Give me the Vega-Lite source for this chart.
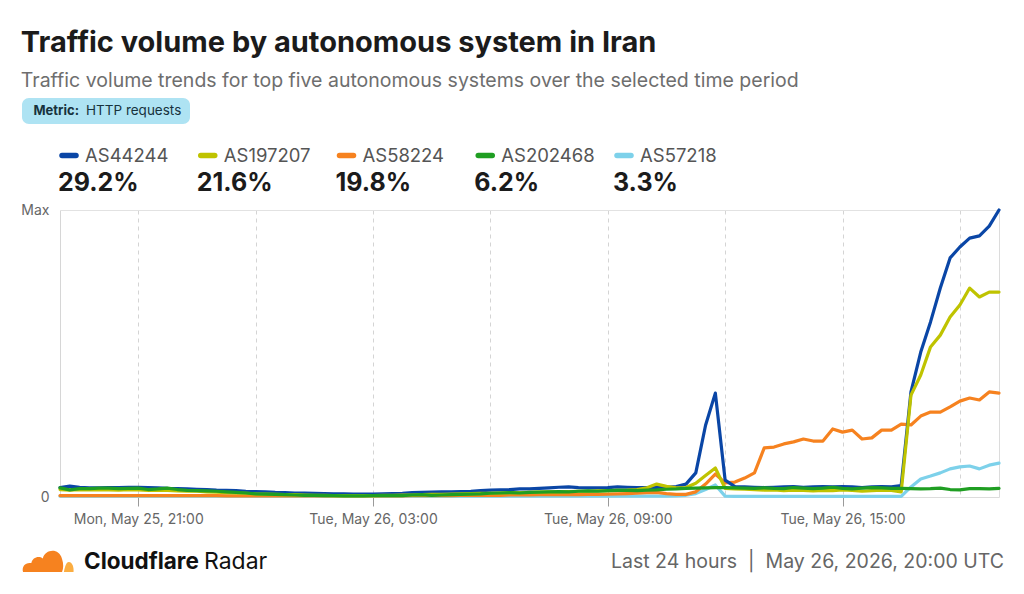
{
  "$schema": "https://vega.github.io/schema/vega-lite/v6.json",
  "background": "#ffffff",
  "padding": {"left": 20, "top": 28, "right": 22, "bottom": 8},
  "title": {
    "text": "Traffic volume by autonomous system in Iran",
    "subtitle": "Traffic volume trends for top five autonomous systems over the selected time period",
    "anchor": "start",
    "frame": "bounds",
    "font": "Inter",
    "fontSize": 29,
    "fontWeight": 700,
    "color": "#1b1b1b",
    "subtitleFont": "Inter",
    "subtitleFontSize": 19.5,
    "subtitleColor": "#6e6e6e",
    "subtitlePadding": 14,
    "offset": 8
  },
  "config": {
    "font": "Inter",
    "view": {"stroke": null},
    "concat": {"spacing": 0}
  },
  "datasets": {
    "shares": [
      {"as": "AS44244", "share": 0.292},
      {"as": "AS197207", "share": 0.216},
      {"as": "AS58224", "share": 0.198},
      {"as": "AS202468", "share": 0.062},
      {"as": "AS57218", "share": 0.033}
    ],
    "traffic": [
      {"time": "2026-05-25T19:00:00Z", "AS44244": 3.3, "AS197207": 2.6, "AS58224": 0.5, "AS202468": 3.2, "AS57218": 0.3},
      {"time": "2026-05-25T19:15:00Z", "AS44244": 3.8, "AS197207": 2.4, "AS58224": 0.5, "AS202468": 2.5, "AS57218": 0.3},
      {"time": "2026-05-25T19:30:00Z", "AS44244": 3.4, "AS197207": 2.6, "AS58224": 0.5, "AS202468": 2.9, "AS57218": 0.3},
      {"time": "2026-05-25T19:45:00Z", "AS44244": 3.2, "AS197207": 2.5, "AS58224": 0.5, "AS202468": 2.9, "AS57218": 0.3},
      {"time": "2026-05-25T20:00:00Z", "AS44244": 3.2, "AS197207": 2.6, "AS58224": 0.5, "AS202468": 3.1, "AS57218": 0.3},
      {"time": "2026-05-25T20:15:00Z", "AS44244": 3.3, "AS197207": 2.5, "AS58224": 0.5, "AS202468": 3.1, "AS57218": 0.3},
      {"time": "2026-05-25T20:30:00Z", "AS44244": 3.3, "AS197207": 2.4, "AS58224": 0.5, "AS202468": 2.9, "AS57218": 0.3},
      {"time": "2026-05-25T20:45:00Z", "AS44244": 3.4, "AS197207": 2.6, "AS58224": 0.5, "AS202468": 3.0, "AS57218": 0.3},
      {"time": "2026-05-25T21:00:00Z", "AS44244": 3.4, "AS197207": 2.5, "AS58224": 0.5, "AS202468": 3.1, "AS57218": 0.3},
      {"time": "2026-05-25T21:15:00Z", "AS44244": 3.3, "AS197207": 2.3, "AS58224": 0.5, "AS202468": 2.6, "AS57218": 0.3},
      {"time": "2026-05-25T21:30:00Z", "AS44244": 3.2, "AS197207": 2.4, "AS58224": 0.5, "AS202468": 2.8, "AS57218": 0.3},
      {"time": "2026-05-25T21:45:00Z", "AS44244": 3.0, "AS197207": 2.3, "AS58224": 0.5, "AS202468": 3.1, "AS57218": 0.3},
      {"time": "2026-05-25T22:00:00Z", "AS44244": 2.9, "AS197207": 2.1, "AS58224": 0.5, "AS202468": 2.6, "AS57218": 0.3},
      {"time": "2026-05-25T22:15:00Z", "AS44244": 2.8, "AS197207": 2.0, "AS58224": 0.5, "AS202468": 2.3, "AS57218": 0.3},
      {"time": "2026-05-25T22:30:00Z", "AS44244": 2.7, "AS197207": 2.0, "AS58224": 0.5, "AS202468": 2.2, "AS57218": 0.3},
      {"time": "2026-05-25T22:45:00Z", "AS44244": 2.6, "AS197207": 1.8, "AS58224": 0.5, "AS202468": 2.1, "AS57218": 0.3},
      {"time": "2026-05-25T23:00:00Z", "AS44244": 2.4, "AS197207": 1.7, "AS58224": 0.5, "AS202468": 2.0, "AS57218": 0.3},
      {"time": "2026-05-25T23:15:00Z", "AS44244": 2.3, "AS197207": 1.5, "AS58224": 0.4, "AS202468": 1.8, "AS57218": 0.3},
      {"time": "2026-05-25T23:30:00Z", "AS44244": 2.2, "AS197207": 1.4, "AS58224": 0.4, "AS202468": 1.6, "AS57218": 0.3},
      {"time": "2026-05-25T23:45:00Z", "AS44244": 2.0, "AS197207": 1.3, "AS58224": 0.4, "AS202468": 1.4, "AS57218": 0.3},
      {"time": "2026-05-26T00:00:00Z", "AS44244": 1.9, "AS197207": 1.1, "AS58224": 0.4, "AS202468": 1.1, "AS57218": 0.3},
      {"time": "2026-05-26T00:15:00Z", "AS44244": 1.8, "AS197207": 1.0, "AS58224": 0.4, "AS202468": 1.0, "AS57218": 0.3},
      {"time": "2026-05-26T00:30:00Z", "AS44244": 1.6, "AS197207": 0.9, "AS58224": 0.4, "AS202468": 0.9, "AS57218": 0.3},
      {"time": "2026-05-26T00:45:00Z", "AS44244": 1.5, "AS197207": 0.8, "AS58224": 0.4, "AS202468": 0.8, "AS57218": 0.3},
      {"time": "2026-05-26T01:00:00Z", "AS44244": 1.4, "AS197207": 0.8, "AS58224": 0.4, "AS202468": 0.7, "AS57218": 0.3},
      {"time": "2026-05-26T01:15:00Z", "AS44244": 1.4, "AS197207": 0.7, "AS58224": 0.4, "AS202468": 0.6, "AS57218": 0.3},
      {"time": "2026-05-26T01:30:00Z", "AS44244": 1.3, "AS197207": 0.6, "AS58224": 0.4, "AS202468": 0.6, "AS57218": 0.3},
      {"time": "2026-05-26T01:45:00Z", "AS44244": 1.2, "AS197207": 0.6, "AS58224": 0.4, "AS202468": 0.5, "AS57218": 0.3},
      {"time": "2026-05-26T02:00:00Z", "AS44244": 1.1, "AS197207": 0.5, "AS58224": 0.4, "AS202468": 0.5, "AS57218": 0.3},
      {"time": "2026-05-26T02:15:00Z", "AS44244": 1.1, "AS197207": 0.5, "AS58224": 0.4, "AS202468": 0.4, "AS57218": 0.3},
      {"time": "2026-05-26T02:30:00Z", "AS44244": 1.0, "AS197207": 0.5, "AS58224": 0.4, "AS202468": 0.4, "AS57218": 0.3},
      {"time": "2026-05-26T02:45:00Z", "AS44244": 1.0, "AS197207": 0.5, "AS58224": 0.4, "AS202468": 0.4, "AS57218": 0.3},
      {"time": "2026-05-26T03:00:00Z", "AS44244": 1.0, "AS197207": 0.5, "AS58224": 0.4, "AS202468": 0.5, "AS57218": 0.3},
      {"time": "2026-05-26T03:15:00Z", "AS44244": 1.1, "AS197207": 0.6, "AS58224": 0.4, "AS202468": 0.5, "AS57218": 0.3},
      {"time": "2026-05-26T03:30:00Z", "AS44244": 1.2, "AS197207": 0.6, "AS58224": 0.4, "AS202468": 0.5, "AS57218": 0.3},
      {"time": "2026-05-26T03:45:00Z", "AS44244": 1.3, "AS197207": 0.7, "AS58224": 0.4, "AS202468": 0.5, "AS57218": 0.3},
      {"time": "2026-05-26T04:00:00Z", "AS44244": 1.5, "AS197207": 0.7, "AS58224": 0.5, "AS202468": 0.7, "AS57218": 0.3},
      {"time": "2026-05-26T04:15:00Z", "AS44244": 1.6, "AS197207": 0.8, "AS58224": 0.5, "AS202468": 0.8, "AS57218": 0.3},
      {"time": "2026-05-26T04:30:00Z", "AS44244": 1.7, "AS197207": 0.9, "AS58224": 0.5, "AS202468": 0.6, "AS57218": 0.3},
      {"time": "2026-05-26T04:45:00Z", "AS44244": 1.8, "AS197207": 0.9, "AS58224": 0.5, "AS202468": 0.7, "AS57218": 0.3},
      {"time": "2026-05-26T05:00:00Z", "AS44244": 1.8, "AS197207": 1.0, "AS58224": 0.5, "AS202468": 0.8, "AS57218": 0.3},
      {"time": "2026-05-26T05:15:00Z", "AS44244": 1.9, "AS197207": 1.1, "AS58224": 0.6, "AS202468": 0.9, "AS57218": 0.3},
      {"time": "2026-05-26T05:30:00Z", "AS44244": 2.0, "AS197207": 1.2, "AS58224": 0.6, "AS202468": 1.0, "AS57218": 0.3},
      {"time": "2026-05-26T05:45:00Z", "AS44244": 2.2, "AS197207": 1.3, "AS58224": 0.6, "AS202468": 1.1, "AS57218": 0.3},
      {"time": "2026-05-26T06:00:00Z", "AS44244": 2.4, "AS197207": 1.3, "AS58224": 0.6, "AS202468": 1.3, "AS57218": 0.3},
      {"time": "2026-05-26T06:15:00Z", "AS44244": 2.5, "AS197207": 1.4, "AS58224": 0.6, "AS202468": 1.4, "AS57218": 0.3},
      {"time": "2026-05-26T06:30:00Z", "AS44244": 2.6, "AS197207": 1.5, "AS58224": 0.7, "AS202468": 1.5, "AS57218": 0.3},
      {"time": "2026-05-26T06:45:00Z", "AS44244": 2.8, "AS197207": 1.5, "AS58224": 0.7, "AS202468": 1.4, "AS57218": 0.3},
      {"time": "2026-05-26T07:00:00Z", "AS44244": 2.8, "AS197207": 1.6, "AS58224": 0.7, "AS202468": 1.6, "AS57218": 0.3},
      {"time": "2026-05-26T07:15:00Z", "AS44244": 3.0, "AS197207": 1.7, "AS58224": 0.8, "AS202468": 1.7, "AS57218": 0.3},
      {"time": "2026-05-26T07:30:00Z", "AS44244": 3.2, "AS197207": 1.8, "AS58224": 0.8, "AS202468": 1.8, "AS57218": 0.3},
      {"time": "2026-05-26T07:45:00Z", "AS44244": 3.4, "AS197207": 1.8, "AS58224": 0.8, "AS202468": 1.9, "AS57218": 0.3},
      {"time": "2026-05-26T08:00:00Z", "AS44244": 3.5, "AS197207": 1.9, "AS58224": 0.8, "AS202468": 1.8, "AS57218": 0.3},
      {"time": "2026-05-26T08:15:00Z", "AS44244": 3.3, "AS197207": 2.0, "AS58224": 0.8, "AS202468": 2.0, "AS57218": 0.3},
      {"time": "2026-05-26T08:30:00Z", "AS44244": 3.2, "AS197207": 2.0, "AS58224": 0.9, "AS202468": 2.1, "AS57218": 0.3},
      {"time": "2026-05-26T08:45:00Z", "AS44244": 3.2, "AS197207": 2.1, "AS58224": 0.9, "AS202468": 2.0, "AS57218": 0.3},
      {"time": "2026-05-26T09:00:00Z", "AS44244": 3.3, "AS197207": 2.2, "AS58224": 1.0, "AS202468": 2.2, "AS57218": 0.3},
      {"time": "2026-05-26T09:15:00Z", "AS44244": 3.5, "AS197207": 2.3, "AS58224": 1.1, "AS202468": 2.3, "AS57218": 0.3},
      {"time": "2026-05-26T09:30:00Z", "AS44244": 3.4, "AS197207": 2.4, "AS58224": 1.2, "AS202468": 2.3, "AS57218": 0.3},
      {"time": "2026-05-26T09:45:00Z", "AS44244": 3.3, "AS197207": 2.6, "AS58224": 1.3, "AS202468": 2.2, "AS57218": 0.3},
      {"time": "2026-05-26T10:00:00Z", "AS44244": 3.3, "AS197207": 3.2, "AS58224": 1.5, "AS202468": 2.4, "AS57218": 0.3},
      {"time": "2026-05-26T10:15:00Z", "AS44244": 3.3, "AS197207": 4.5, "AS58224": 1.6, "AS202468": 2.5, "AS57218": 0.3},
      {"time": "2026-05-26T10:30:00Z", "AS44244": 3.4, "AS197207": 3.7, "AS58224": 1.2, "AS202468": 2.7, "AS57218": 0.3},
      {"time": "2026-05-26T10:45:00Z", "AS44244": 3.6, "AS197207": 3.2, "AS58224": 0.9, "AS202468": 2.8, "AS57218": 0.4},
      {"time": "2026-05-26T11:00:00Z", "AS44244": 4.5, "AS197207": 3.3, "AS58224": 0.9, "AS202468": 3.0, "AS57218": 0.6},
      {"time": "2026-05-26T11:15:00Z", "AS44244": 8.4, "AS197207": 4.8, "AS58224": 1.8, "AS202468": 3.1, "AS57218": 1.2},
      {"time": "2026-05-26T11:30:00Z", "AS44244": 25.0, "AS197207": 7.5, "AS58224": 4.5, "AS202468": 3.2, "AS57218": 2.6},
      {"time": "2026-05-26T11:45:00Z", "AS44244": 36.2, "AS197207": 10.1, "AS58224": 8.0, "AS202468": 3.3, "AS57218": 4.2},
      {"time": "2026-05-26T12:00:00Z", "AS44244": 5.9, "AS197207": 3.0, "AS58224": 4.9, "AS202468": 3.3, "AS57218": 0.3},
      {"time": "2026-05-26T12:15:00Z", "AS44244": 3.6, "AS197207": 2.8, "AS58224": 5.2, "AS202468": 3.2, "AS57218": 0.2},
      {"time": "2026-05-26T12:30:00Z", "AS44244": 3.5, "AS197207": 2.7, "AS58224": 6.6, "AS202468": 3.1, "AS57218": 0.2},
      {"time": "2026-05-26T12:45:00Z", "AS44244": 3.4, "AS197207": 2.6, "AS58224": 8.4, "AS202468": 3.0, "AS57218": 0.2},
      {"time": "2026-05-26T13:00:00Z", "AS44244": 3.3, "AS197207": 2.4, "AS58224": 17.1, "AS202468": 3.2, "AS57218": 0.2},
      {"time": "2026-05-26T13:15:00Z", "AS44244": 3.4, "AS197207": 2.5, "AS58224": 17.4, "AS202468": 3.0, "AS57218": 0.2},
      {"time": "2026-05-26T13:30:00Z", "AS44244": 3.5, "AS197207": 2.2, "AS58224": 18.5, "AS202468": 2.9, "AS57218": 0.2},
      {"time": "2026-05-26T13:45:00Z", "AS44244": 3.6, "AS197207": 2.4, "AS58224": 19.2, "AS202468": 3.3, "AS57218": 0.2},
      {"time": "2026-05-26T14:00:00Z", "AS44244": 3.4, "AS197207": 2.3, "AS58224": 20.2, "AS202468": 3.1, "AS57218": 0.2},
      {"time": "2026-05-26T14:15:00Z", "AS44244": 3.5, "AS197207": 2.1, "AS58224": 19.5, "AS202468": 2.9, "AS57218": 0.2},
      {"time": "2026-05-26T14:30:00Z", "AS44244": 3.6, "AS197207": 2.3, "AS58224": 19.5, "AS202468": 3.1, "AS57218": 0.2},
      {"time": "2026-05-26T14:45:00Z", "AS44244": 3.5, "AS197207": 2.2, "AS58224": 23.7, "AS202468": 3.4, "AS57218": 0.2},
      {"time": "2026-05-26T15:00:00Z", "AS44244": 3.6, "AS197207": 2.5, "AS58224": 22.6, "AS202468": 3.0, "AS57218": 0.2},
      {"time": "2026-05-26T15:15:00Z", "AS44244": 3.5, "AS197207": 2.3, "AS58224": 23.3, "AS202468": 2.8, "AS57218": 0.2},
      {"time": "2026-05-26T15:30:00Z", "AS44244": 3.3, "AS197207": 2.0, "AS58224": 20.2, "AS202468": 3.1, "AS57218": 0.2},
      {"time": "2026-05-26T15:45:00Z", "AS44244": 3.5, "AS197207": 2.2, "AS58224": 20.6, "AS202468": 3.3, "AS57218": 0.2},
      {"time": "2026-05-26T16:00:00Z", "AS44244": 3.6, "AS197207": 2.4, "AS58224": 23.3, "AS202468": 3.2, "AS57218": 0.2},
      {"time": "2026-05-26T16:15:00Z", "AS44244": 3.5, "AS197207": 2.3, "AS58224": 23.3, "AS202468": 3.0, "AS57218": 0.2},
      {"time": "2026-05-26T16:30:00Z", "AS44244": 4.0, "AS197207": 1.8, "AS58224": 25.4, "AS202468": 3.0, "AS57218": 0.2},
      {"time": "2026-05-26T16:45:00Z", "AS44244": 36.6, "AS197207": 35.5, "AS58224": 25.1, "AS202468": 2.9, "AS57218": 3.5},
      {"time": "2026-05-26T17:00:00Z", "AS44244": 50.5, "AS197207": 42.5, "AS58224": 28.2, "AS202468": 2.8, "AS57218": 6.3},
      {"time": "2026-05-26T17:15:00Z", "AS44244": 61.0, "AS197207": 52.3, "AS58224": 29.6, "AS202468": 2.9, "AS57218": 7.3},
      {"time": "2026-05-26T17:30:00Z", "AS44244": 72.8, "AS197207": 56.4, "AS58224": 29.6, "AS202468": 3.1, "AS57218": 8.4},
      {"time": "2026-05-26T17:45:00Z", "AS44244": 83.3, "AS197207": 62.7, "AS58224": 31.4, "AS202468": 2.6, "AS57218": 9.8},
      {"time": "2026-05-26T18:00:00Z", "AS44244": 87.1, "AS197207": 66.9, "AS58224": 33.4, "AS202468": 2.5, "AS57218": 10.5},
      {"time": "2026-05-26T18:15:00Z", "AS44244": 90.2, "AS197207": 72.8, "AS58224": 34.5, "AS202468": 2.9, "AS57218": 10.8},
      {"time": "2026-05-26T18:30:00Z", "AS44244": 91.0, "AS197207": 69.7, "AS58224": 33.8, "AS202468": 2.9, "AS57218": 9.8},
      {"time": "2026-05-26T18:45:00Z", "AS44244": 94.4, "AS197207": 71.4, "AS58224": 36.6, "AS202468": 2.8, "AS57218": 11.1},
      {"time": "2026-05-26T19:00:00Z", "AS44244": 100.0, "AS197207": 71.4, "AS58224": 36.2, "AS202468": 3.0, "AS57218": 11.8}
    ]
  },
  "concat": [
    {
      "width": 168,
      "height": 26,
      "view": {"fill": "#aee3f3", "cornerRadius": 7, "stroke": null},
      "data": {"values": [{"metric": "HTTP requests"}]},
      "layer": [
        {
          "mark": {"type": "text", "align": "right", "baseline": "middle", "dx": -27, "fontSize": 13, "fontWeight": 700, "color": "#17323d"},
          "encoding": {"text": {"value": "Metric:"}}
        },
        {
          "mark": {"type": "text", "align": "left", "baseline": "middle", "dx": -20, "fontSize": 13.5, "color": "#17323d"},
          "encoding": {"text": {"field": "metric"}}
        }
      ]
    },
    {
      "width": 982,
      "height": 79,
      "data": {"name": "shares"},
      "encoding": {
        "x": {
          "field": "as",
          "type": "nominal",
          "sort": null,
          "axis": null,
          "scale": {"type": "point", "padding": 0, "domain": ["AS44244", "AS197207", "AS58224", "AS202468", "AS57218"], "range": [47, 602]}
        }
      },
      "layer": [
        {
          "mark": {"type": "point", "shape": "M-1,0L1,0", "filled": false, "size": 196, "strokeWidth": 5.5, "strokeCap": "round", "opacity": 1, "yOffset": -8},
          "encoding": {
            "stroke": {
              "field": "as",
              "type": "nominal",
              "legend": null,
              "scale": {"domain": ["AS44244", "AS197207", "AS58224", "AS202468", "AS57218"], "range": ["#0a46a6", "#bfc300", "#f6821f", "#1f9e22", "#7dd1ea"]}
            }
          }
        },
        {
          "mark": {"type": "text", "align": "left", "baseline": "middle", "dx": 16, "dy": -8, "fontSize": 18.5, "color": "#555555"},
          "encoding": {"text": {"field": "as"}}
        },
        {
          "mark": {"type": "text", "align": "left", "baseline": "middle", "dx": -11, "dy": 19, "fontSize": 25, "fontWeight": 700, "color": "#1b1b1b"},
          "encoding": {"text": {"field": "share", "type": "quantitative", "format": ".1%"}}
        }
      ]
    },
    {
      "width": 977,
      "height": 287,
      "data": {"name": "traffic"},
      "transform": [
        {"fold": ["AS57218", "AS58224", "AS44244", "AS197207", "AS202468"], "as": ["series", "value"]}
      ],
      "resolve": {"axis": {"x": "independent", "y": "independent"}},
      "layer": [
        {
          "mark": {"type": "line", "strokeWidth": 3.2, "strokeJoin": "round", "strokeCap": "round"},
          "encoding": {
            "x": {
              "field": "time",
              "type": "temporal",
              "scale": {"type": "utc", "nice": false, "range": [38, 977]},
              "axis": {
                "orient": "bottom",
                "title": null,
                "values": [
                  {"year": 2026, "month": 5, "date": 25, "hours": 21, "utc": true},
                  {"year": 2026, "month": 5, "date": 26, "hours": 0, "utc": true},
                  {"year": 2026, "month": 5, "date": 26, "hours": 3, "utc": true},
                  {"year": 2026, "month": 5, "date": 26, "hours": 6, "utc": true},
                  {"year": 2026, "month": 5, "date": 26, "hours": 9, "utc": true},
                  {"year": 2026, "month": 5, "date": 26, "hours": 12, "utc": true},
                  {"year": 2026, "month": 5, "date": 26, "hours": 15, "utc": true},
                  {"year": 2026, "month": 5, "date": 26, "hours": 18, "utc": true}
                ],
                "labelExpr": "utchours(datum.value) % 6 === 3 ? utcFormat(datum.value, '%a, %b %d, %H:%M') : ''",
                "labelOverlap": false,
                "labelFontSize": 14,
                "labelColor": "#666666",
                "labelPadding": 6,
                "domain": true,
                "domainColor": "#dcdcdc",
                "grid": true,
                "gridDash": [4, 4],
                "gridColor": "#d4d4d4",
                "tickColor": "#9a9a9a",
                "tickSize": 9,
                "tickOpacity": {"condition": {"test": "utchours(datum.value) % 6 === 3", "value": 1}, "value": 0}
              }
            },
            "y": {
              "field": "value",
              "type": "quantitative",
              "scale": {"domain": [0, 100], "nice": false},
              "axis": {
                "orient": "left",
                "offset": -38,
                "title": null,
                "values": [0, 100],
                "labelExpr": "datum.value === 0 ? '0' : 'Max'",
                "labelFontSize": 14,
                "labelColor": "#666666",
                "labelPadding": 11,
                "grid": false,
                "ticks": false,
                "domain": true,
                "domainColor": "#d6d6d6"
              }
            },
            "color": {
              "field": "series",
              "type": "nominal",
              "legend": null,
              "scale": {"domain": ["AS44244", "AS197207", "AS58224", "AS202468", "AS57218"], "range": ["#0a46a6", "#bfc300", "#f6821f", "#1f9e22", "#7dd1ea"]}
            }
          }
        },
        {
          "mark": {"type": "line", "opacity": 0},
          "encoding": {
            "x": {
              "field": "time",
              "type": "temporal",
              "axis": {"orient": "top", "title": null, "labels": false, "ticks": false, "grid": false, "domain": true, "domainColor": "#e2e2e2"}
            },
            "y": {
              "field": "value",
              "type": "quantitative",
              "axis": {"orient": "right", "title": null, "labels": false, "ticks": false, "grid": false, "domain": true, "domainColor": "#dcdcdc"}
            }
          }
        }
      ]
    },
    {
      "width": 982,
      "height": 60,
      "data": {"values": [{"brand": "Cloudflare", "product": "Radar", "stamp": "Last 24 hours \u00a0|\u00a0 May 26, 2026, 20:00 UTC"}]},
      "layer": [
        {
          "mark": {"type": "point", "shape": "M-0.96,0.42C-1.02,0.2,-0.86,0.04,-0.64,0.08C-0.6,-0.14,-0.36,-0.22,-0.2,-0.1C-0.1,-0.46,0.42,-0.52,0.54,-0.08C0.6,0.1,0.6,0.28,0.54,0.42Z", "filled": true, "size": 2704, "strokeWidth": 0, "opacity": 1, "fill": "#f6821f", "xOffset": 26, "yOffset": 5},
          "encoding": {"x": {"value": 0}}
        },
        {
          "mark": {"type": "point", "shape": "M0.61,0.42C0.65,0.22,0.7,0.04,0.8,0.04C0.95,0.04,1.0,0.28,0.98,0.42Z", "filled": true, "size": 2704, "strokeWidth": 0, "opacity": 1, "fill": "#fbad41", "xOffset": 26, "yOffset": 5},
          "encoding": {"x": {"value": 0}}
        },
        {
          "mark": {"type": "text", "align": "left", "baseline": "middle", "dx": 62, "dy": 6, "fontSize": 22.5, "fontWeight": 700, "color": "#111111"},
          "encoding": {"x": {"value": 0}, "text": {"field": "brand"}}
        },
        {
          "mark": {"type": "text", "align": "left", "baseline": "middle", "dx": 182, "dy": 6, "fontSize": 23, "color": "#111111"},
          "encoding": {"x": {"value": 0}, "text": {"field": "product"}}
        },
        {
          "mark": {"type": "text", "align": "right", "baseline": "middle", "dy": 6, "fontSize": 19.5, "color": "#666666"},
          "encoding": {"x": {"value": "width"}, "text": {"field": "stamp"}}
        }
      ]
    }
  ],
  "columns": 1,
  "align": "none"
}
